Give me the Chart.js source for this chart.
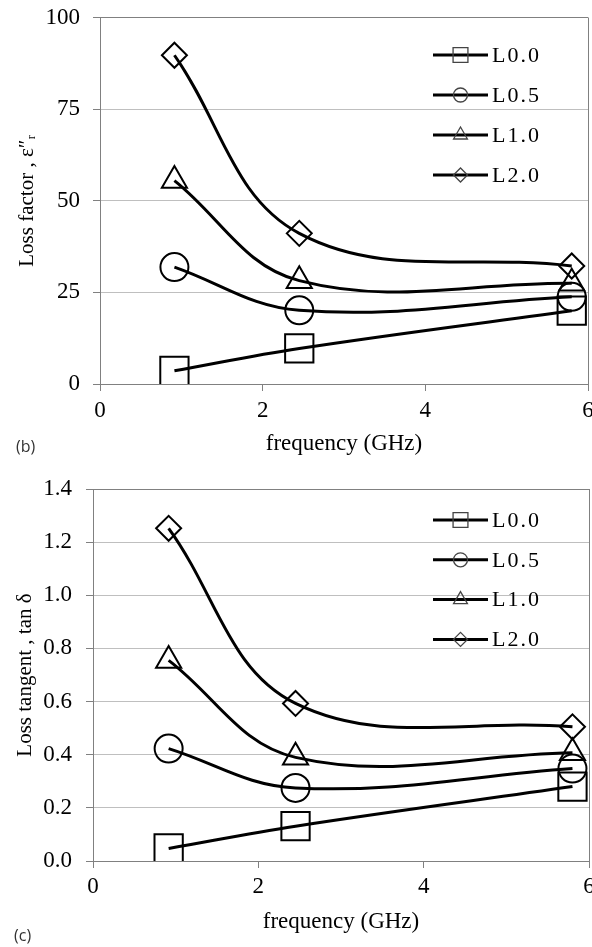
<!DOCTYPE html>
<html>
<head>
<meta charset="utf-8">
<script src="https://cdn.jsdelivr.net/npm/chart.js@4.4.0/dist/chart.umd.min.js"></script>
<style>
html, body { margin: 0; padding: 0; background: #fff; overflow: hidden; width: 592px; height: 947px; }
#boxB { position: absolute; left: 0; top: 0; width: 600px; height: 470px; }
#boxC { position: absolute; left: 0; top: 470px; width: 600px; height: 477px; }
.tag { position: absolute; font-family: "Open Sans", sans-serif; font-size: 16px; line-height: 18px; color: #333; }
</style>
</head>
<body>
<div id="boxB"><canvas id="chartB" width="600" height="470"></canvas></div>
<div id="boxC"><canvas id="chartC" width="600" height="477"></canvas></div>
<div class="tag" style="left:16px; top:437px">(b)</div>
<div class="tag" style="left:14px; top:926px">(c)</div>

<script>
// frequencies (GHz) of the three measurements
var freq = [0.915, 2.45, 5.8];
var xTicks = [0, 2, 4, 6];

var names = ["L0.0", "L0.5", "L1.0", "L2.0"];
var markers = ["rect", "circle", "triangle", "rectRot"];

// (b) loss factor
var lossL00 = [3.6, 9.7, 20.0];
var lossL05 = [31.9, 20.1, 23.8];
var lossL10 = [55.5, 28.2, 27.5];
var lossL20 = [89.7, 41.1, 32.2];
var lossTicks = [0, 25, 50, 75, 100];

// (c) loss tangent
var tanL00 = [0.047, 0.131, 0.28];
var tanL05 = [0.423, 0.275, 0.348];
var tanL10 = [0.755, 0.39, 0.407];
var tanL20 = [1.252, 0.593, 0.505];
var tanTicks = [0, 0.2, 0.4, 0.6, 0.8, 1.0, 1.2, 1.4];

var markerR = [20, 14, 14.5, 12.5];
var legendR = [10.5, 7, 8, 7];

Chart.defaults.font.family = "'Liberation Serif', 'Times New Roman', serif";
Chart.defaults.color = "#000";

// legend sits inside the plot, line + small marker + label
var insideLegend = {
  id: "insideLegend",
  afterDraw: function(chart, args, opts) {
    var ctx = chart.ctx;
    ctx.save();
    ctx.font = "22px 'Liberation Serif'";
    ctx.letterSpacing = "2px";
    ctx.textBaseline = "middle";
    chart.data.datasets.forEach(function(ds, i) {
      var y = opts.top + i * opts.gap;
      ctx.strokeStyle = "#000";
      ctx.lineWidth = 3;
      ctx.beginPath();
      ctx.moveTo(opts.left, y);
      ctx.lineTo(opts.left + 55, y);
      ctx.stroke();
      ctx.strokeStyle = "#444";
      ctx.lineWidth = 1.3;
      ctx.fillStyle = "rgba(0,0,0,0)";
      Chart.helpers.drawPoint(ctx, {pointStyle: ds.pointStyle, rotation: 0, radius: legendR[i], borderWidth: 1.3}, opts.left + 27.5, y);
      ctx.fillStyle = "#000";
      ctx.fillText(ds.label, opts.left + 59, y + 1);
    });
    ctx.restore();
  }
};

function makeSets(lists) {
  return lists.map(function(vals, i) {
    return {
      label: names[i],
      data: vals.map(function(v, j) { return {x: freq[j], y: v}; }),
      borderColor: "#000",
      borderWidth: 3,
      tension: 0.38,
      pointStyle: markers[i],
      pointRadius: markerR[i],
      pointBorderWidth: 2,
      pointBorderColor: "#000",
      pointBackgroundColor: "rgba(0,0,0,0)"
    };
  });
}

function makeChart(id, lists, yTicks, yTitle, fmt, lay) {
  var yMax = yTicks[yTicks.length - 1];
  var xMax = xTicks[xTicks.length - 1];
  return new Chart(document.getElementById(id), {
    type: "line",
    data: { datasets: makeSets(lists) },
    plugins: [insideLegend],
    options: {
      responsive: false,
      animation: false,
      // big markers would otherwise push the plot inwards
      layout: { autoPadding: false, padding: { left: 0, top: lay.top, right: lay.right, bottom: 0 } },
      plugins: {
        legend: { display: false },
        tooltip: { enabled: false },
        insideLegend: lay.legend
      },
      scales: {
        x: {
          type: "linear",
          min: xTicks[0],
          max: xMax,
          // fixed size, and let the last label run off the edge like the original
          afterFit: function(s) { s.height = lay.xHeight; s.paddingLeft = 0; s.paddingRight = 0; },
          ticks: { stepSize: xTicks[1] - xTicks[0], padding: lay.xPad, font: { size: 23 }, maxRotation: 0 },
          grid: {
            color: function(c) { return c.tick && c.tick.value === xMax ? "#808080" : "rgba(0,0,0,0)"; },
            tickColor: "#808080",
            tickLength: 7
          },
          border: { color: "#808080" },
          title: { display: true, text: "frequency (GHz)", font: { size: 23 }, padding: { top: 0, bottom: lay.xTitlePad } }
        },
        y: {
          min: yTicks[0],
          max: yMax,
          afterFit: function(s) { s.width = lay.yWidth; s.paddingTop = 0; s.paddingBottom = 0; },
          ticks: { stepSize: yTicks[1] - yTicks[0], padding: lay.yPad, font: { size: 23 }, callback: fmt },
          grid: {
            color: function(c) { return c.tick && Math.abs(c.tick.value - yMax) < 1e-9 ? "#808080" : "#bfbfbf"; },
            tickColor: "#808080",
            tickLength: 7
          },
          border: { color: "#808080" },
          title: { display: true, text: yTitle, font: { size: 21 }, padding: { top: lay.yTitlePad, bottom: 0 } }
        }
      }
    }
  });
}

var chartB = makeChart("chartB", [lossL00, lossL05, lossL10, lossL20], lossTicks,
  "Loss factor , \u03b5\u2033\u1d63",
  function(v) { return v; },
  { top: 17.5, right: 12, xHeight: 86, xPad: 6, xTitlePad: 12, yWidth: 100, yPad: 13, yTitlePad: 15,
    legend: { left: 433, top: 55, gap: 40 } });

var chartC = makeChart("chartC", [tanL00, tanL05, tanL10, tanL20], tanTicks,
  "Loss tangent , tan \u03b4",
  function(v) { return v.toFixed(1); },
  { top: 19, right: 11, xHeight: 86, xPad: 5, xTitlePad: 11, yWidth: 93, yPad: 14, yTitlePad: 12.5,
    legend: { left: 433, top: 50, gap: 39.8 } });
</script>
</body>
</html>
